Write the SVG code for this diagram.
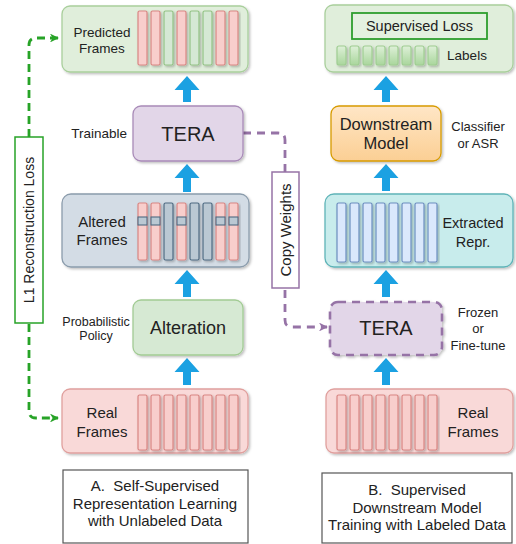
<svg xmlns="http://www.w3.org/2000/svg" width="516" height="544" viewBox="0 0 516 544">
  <defs>
    <filter id="shadow" x="-20%" y="-20%" width="150%" height="150%">
      <feDropShadow dx="1.5" dy="1.5" stdDeviation="0.8" flood-color="#000" flood-opacity="0.25"/>
    </filter>
    <linearGradient id="orangeGrad" x1="0" y1="0" x2="0" y2="1">
      <stop offset="0" stop-color="#ffe6c6"/>
      <stop offset="1" stop-color="#fbcf94"/>
    </linearGradient>
    <linearGradient id="labelGrad" x1="0" y1="0" x2="0" y2="1">
      <stop offset="0" stop-color="#def0d8"/>
      <stop offset="1" stop-color="#a9d69c"/>
    </linearGradient>
    <marker id="greenHead" viewBox="0 0 10 10" refX="9" refY="5" markerWidth="3.2" markerHeight="3.2" orient="auto-start-reverse" markerUnits="strokeWidth">
      <path d="M0,0 L10,5 L0,10 L3,5 Z" fill="#27a327"/>
    </marker>
    <marker id="purpleHead" viewBox="0 0 10 10" refX="9" refY="5" markerWidth="3.2" markerHeight="3.2" orient="auto" markerUnits="strokeWidth">
      <path d="M0,0 L10,5 L0,10 L3,5 Z" fill="#9673a6"/>
    </marker>
  </defs>
  <style>
    text { font-family: "Liberation Sans", Arial, sans-serif; fill: #222; }
    .box { stroke-width: 1.3; filter: url(#shadow); }
    .green { fill: #e0eedb; stroke: #a9cf9c; }
    .alter { fill: #d6e9d3; stroke: #a2cb94; }
    .slate { fill: #d3dce5; stroke: #8b9cac; }
    .purple { fill: #e2d6e8; stroke: #a98bb8; }
    .orange { fill: url(#orangeGrad); stroke: #d79b00; }
    .teal { fill: #c8ecec; stroke: #5fb4b8; }
    .pink { fill: #f9d9d8; stroke: #e0a09e; }
    .bar { stroke-width: 1.2; filter: url(#shadow); }
    .rb { fill: #f8cecc; stroke: #d98683; }
    .gb { fill: #d5e8d4; stroke: #93c285; }
    .sb { fill: #bac8d3; stroke: #4f6b82; }
    .bb { fill: #dae8fc; stroke: #6c8ebf; }
    .lb { fill: url(#labelGrad); stroke: #9fcd92; }
    .band { fill: #bac8d3; stroke: #4f6b82; stroke-width: 1.1; }
    .blue { fill: #1ba1e2; }
    .caption { fill: #fff; stroke: #555; stroke-width: 1.2; }
  </style>

  <!-- Connectors (drawn first so the label boxes sit on top of the dashed lines) -->
  <g id="connectors">
    <!-- upward block arrows, left column -->
    <path class="blue" d="M187,76 L199.5,90 L191,90 L191,102 L183,102 L183,90 L174.5,90 Z"/>
    <path class="blue" d="M187,164 L199.5,178 L191,178 L191,192 L183,192 L183,178 L174.5,178 Z"/>
    <path class="blue" d="M187,270 L199.5,284 L191,284 L191,297 L183,297 L183,284 L174.5,284 Z"/>
    <path class="blue" d="M187,358 L199.5,372 L191,372 L191,385 L183,385 L183,372 L174.5,372 Z"/>
    <!-- upward block arrows, right column -->
    <path class="blue" d="M386,76 L398.5,90 L390,90 L390,102 L382,102 L382,90 L373.5,90 Z"/>
    <path class="blue" d="M386,164 L398.5,178 L390,178 L390,191 L382,191 L382,178 L373.5,178 Z"/>
    <path class="blue" d="M386,270 L398.5,284 L390,284 L390,297 L382,297 L382,284 L373.5,284 Z"/>
    <path class="blue" d="M386,358 L398.5,372 L390,372 L390,385 L382,385 L382,372 L373.5,372 Z"/>
    <!-- reconstruction loss between real and predicted frames -->
    <path d="M58,38 H36 Q29,38 29,45 V411 Q29,418 36,418 H58" fill="none" stroke="#27a327" stroke-width="2.8" stroke-dasharray="8 5" marker-start="url(#greenHead)" marker-end="url(#greenHead)"/>
    <!-- weight transfer from pre-trained to downstream TERA -->
    <path d="M243,133 H278 Q285,133 285,140 V320 Q285,327 292,327 H327" fill="none" stroke="#9673a6" stroke-width="2.8" stroke-dasharray="8 6" marker-end="url(#purpleHead)"/>
  </g>

  <!-- Left column: self-supervised pre-training -->
  <g id="predicted-frames">
    <rect class="box green" x="62" y="6" width="186" height="66" rx="8"/>
    <rect class="bar rb" x="138" y="11" width="9" height="54" rx="1.5"/>
    <rect class="bar rb" x="151" y="11" width="9" height="54" rx="1.5"/>
    <rect class="bar gb" x="164" y="11" width="9" height="54" rx="1.5"/>
    <rect class="bar rb" x="177" y="11" width="9" height="54" rx="1.5"/>
    <rect class="bar gb" x="190" y="11" width="9" height="54" rx="1.5"/>
    <rect class="bar gb" x="203" y="11" width="9" height="54" rx="1.5"/>
    <rect class="bar rb" x="216" y="11" width="9" height="54" rx="1.5"/>
    <rect class="bar rb" x="229" y="11" width="9" height="54" rx="1.5"/>
    <text x="102" y="37" font-size="13.5" text-anchor="middle">Predicted</text>
    <text x="102" y="53" font-size="13.5" text-anchor="middle">Frames</text>
  </g>

  <g id="tera-trainable">
    <rect class="box purple" x="133" y="106" width="110" height="55" rx="8"/>
    <text x="188" y="141" font-size="20" text-anchor="middle">TERA</text>
    <text x="127" y="138" font-size="13.5" text-anchor="end">Trainable</text>
  </g>

  <g id="altered-frames">
    <rect class="box slate" x="62" y="194" width="187" height="73" rx="9"/>
    <rect class="bar rb" x="138" y="203" width="9" height="57" rx="1.5"/>
    <rect class="bar rb" x="151" y="203" width="9" height="57" rx="1.5"/>
    <rect class="bar sb" x="164" y="203" width="9" height="57" rx="1.5"/>
    <rect class="bar rb" x="177" y="203" width="9" height="57" rx="1.5"/>
    <rect class="bar sb" x="190" y="203" width="9" height="57" rx="1.5"/>
    <rect class="bar sb" x="203" y="203" width="9" height="57" rx="1.5"/>
    <rect class="bar rb" x="216" y="203" width="9" height="57" rx="1.5"/>
    <rect class="bar rb" x="229" y="203" width="9" height="57" rx="1.5"/>
    <rect class="band" x="138" y="217" width="9" height="8"/>
    <rect class="band" x="151" y="217" width="9" height="8"/>
    <rect class="band" x="177" y="217" width="9" height="8"/>
    <rect class="band" x="216" y="217" width="9" height="8"/>
    <rect class="band" x="229" y="217" width="9" height="8"/>
    <text x="102" y="227" font-size="15" text-anchor="middle">Altered</text>
    <text x="102" y="245" font-size="15" text-anchor="middle">Frames</text>
  </g>

  <g id="alteration">
    <rect class="box alter" x="133" y="300" width="110" height="55" rx="8"/>
    <text x="188" y="334" font-size="18" text-anchor="middle">Alteration</text>
    <text x="96" y="326" font-size="12.5" text-anchor="middle">Probabilistic</text>
    <text x="96" y="340" font-size="12.5" text-anchor="middle">Policy</text>
  </g>

  <g id="real-frames-a">
    <rect class="box pink" x="62" y="389" width="186" height="64" rx="8"/>
    <rect class="bar rb" x="138" y="395" width="9" height="55" rx="1.5"/>
    <rect class="bar rb" x="151" y="395" width="9" height="55" rx="1.5"/>
    <rect class="bar rb" x="164" y="395" width="9" height="55" rx="1.5"/>
    <rect class="bar rb" x="177" y="395" width="9" height="55" rx="1.5"/>
    <rect class="bar rb" x="190" y="395" width="9" height="55" rx="1.5"/>
    <rect class="bar rb" x="203" y="395" width="9" height="55" rx="1.5"/>
    <rect class="bar rb" x="216" y="395" width="9" height="55" rx="1.5"/>
    <rect class="bar rb" x="229" y="395" width="9" height="55" rx="1.5"/>
    <text x="102" y="418" font-size="15" text-anchor="middle">Real</text>
    <text x="102" y="437" font-size="15" text-anchor="middle">Frames</text>
  </g>

  <g id="l1-loss-label">
    <rect x="15" y="137" width="28" height="186" fill="#fff" stroke="#27a327" stroke-width="1.5"/>
    <text transform="translate(34,230) rotate(-90)" font-size="14" text-anchor="middle">L1 Reconstruction Loss</text>
  </g>

  <g id="caption-a">
    <rect class="caption" x="63" y="470" width="185" height="73"/>
    <text x="155" y="491" font-size="15" text-anchor="middle" xml:space="preserve">A.  Self-Supervised</text>
    <text x="155" y="509" font-size="15" text-anchor="middle">Representation Learning</text>
    <text x="155" y="526" font-size="15" text-anchor="middle">with Unlabeled Data</text>
  </g>

  <!-- Right column: supervised downstream training -->
  <g id="supervised-loss">
    <rect class="box green" x="325" y="5" width="188" height="67" rx="8"/>
    <rect x="352" y="13" width="135" height="26" fill="#e4f1e0" stroke="#2e9e2e" stroke-width="1.8"/>
    <text x="419.5" y="31" font-size="14.5" text-anchor="middle">Supervised Loss</text>
    <rect class="bar lb" x="337" y="46" width="9" height="19" rx="2"/>
    <rect class="bar lb" x="350" y="46" width="9" height="19" rx="2"/>
    <rect class="bar lb" x="363" y="46" width="9" height="19" rx="2"/>
    <rect class="bar lb" x="376" y="46" width="9" height="19" rx="2"/>
    <rect class="bar lb" x="389" y="46" width="9" height="19" rx="2"/>
    <rect class="bar lb" x="402" y="46" width="9" height="19" rx="2"/>
    <rect class="bar lb" x="415" y="46" width="9" height="19" rx="2"/>
    <rect class="bar lb" x="428" y="46" width="9" height="19" rx="2"/>
    <text x="467" y="60" font-size="13.5" text-anchor="middle">Labels</text>
  </g>

  <g id="downstream-model">
    <rect class="box orange" x="331" y="106" width="110" height="55" rx="8"/>
    <text x="386" y="130" font-size="16.5" text-anchor="middle">Downstream</text>
    <text x="386" y="149" font-size="16.5" text-anchor="middle">Model</text>
    <text x="478" y="131" font-size="13" text-anchor="middle">Classifier</text>
    <text x="478" y="148" font-size="13" text-anchor="middle">or ASR</text>
  </g>

  <g id="extracted-repr">
    <rect class="box teal" x="325" y="194" width="188" height="73" rx="9"/>
    <rect class="bar bb" x="337" y="203" width="9" height="59" rx="1.5"/>
    <rect class="bar bb" x="350" y="203" width="9" height="59" rx="1.5"/>
    <rect class="bar bb" x="363" y="203" width="9" height="59" rx="1.5"/>
    <rect class="bar bb" x="376" y="203" width="9" height="59" rx="1.5"/>
    <rect class="bar bb" x="389" y="203" width="9" height="59" rx="1.5"/>
    <rect class="bar bb" x="402" y="203" width="9" height="59" rx="1.5"/>
    <rect class="bar bb" x="415" y="203" width="9" height="59" rx="1.5"/>
    <rect class="bar bb" x="428" y="203" width="9" height="59" rx="1.5"/>
    <text x="473" y="228" font-size="14.5" text-anchor="middle">Extracted</text>
    <text x="473" y="247" font-size="14.5" text-anchor="middle">Repr.</text>
  </g>

  <g id="tera-frozen">
    <rect x="330" y="302" width="112" height="53" rx="8" fill="#e2d6e8" stroke="#9673a6" stroke-width="2.6" stroke-dasharray="8 6" filter="url(#shadow)"/>
    <text x="386" y="335" font-size="20" text-anchor="middle">TERA</text>
    <text x="478" y="317" font-size="13" text-anchor="middle">Frozen</text>
    <text x="478" y="333" font-size="13" text-anchor="middle">or</text>
    <text x="478" y="350" font-size="13" text-anchor="middle">Fine-tune</text>
  </g>

  <g id="real-frames-b">
    <rect class="box pink" x="326" y="389" width="187" height="64" rx="8"/>
    <rect class="bar rb" x="337" y="395" width="9" height="55" rx="1.5"/>
    <rect class="bar rb" x="350" y="395" width="9" height="55" rx="1.5"/>
    <rect class="bar rb" x="363" y="395" width="9" height="55" rx="1.5"/>
    <rect class="bar rb" x="376" y="395" width="9" height="55" rx="1.5"/>
    <rect class="bar rb" x="389" y="395" width="9" height="55" rx="1.5"/>
    <rect class="bar rb" x="402" y="395" width="9" height="55" rx="1.5"/>
    <rect class="bar rb" x="415" y="395" width="9" height="55" rx="1.5"/>
    <rect class="bar rb" x="428" y="395" width="9" height="55" rx="1.5"/>
    <text x="473" y="418" font-size="15" text-anchor="middle">Real</text>
    <text x="473" y="437" font-size="15" text-anchor="middle">Frames</text>
  </g>

  <g id="copy-weights-label">
    <rect x="272" y="172" width="27" height="116" fill="#fff" stroke="#9673a6" stroke-width="1.5"/>
    <text transform="translate(290.5,230) rotate(-90)" font-size="15" text-anchor="middle">Copy Weights</text>
  </g>

  <g id="caption-b">
    <rect class="caption" x="322" y="473" width="190" height="70"/>
    <text x="417" y="495" font-size="15" text-anchor="middle" xml:space="preserve">B.  Supervised</text>
    <text x="417" y="513" font-size="15" text-anchor="middle">Downstream Model</text>
    <text x="417" y="530" font-size="15" text-anchor="middle">Training with Labeled Data</text>
  </g>
</svg>
